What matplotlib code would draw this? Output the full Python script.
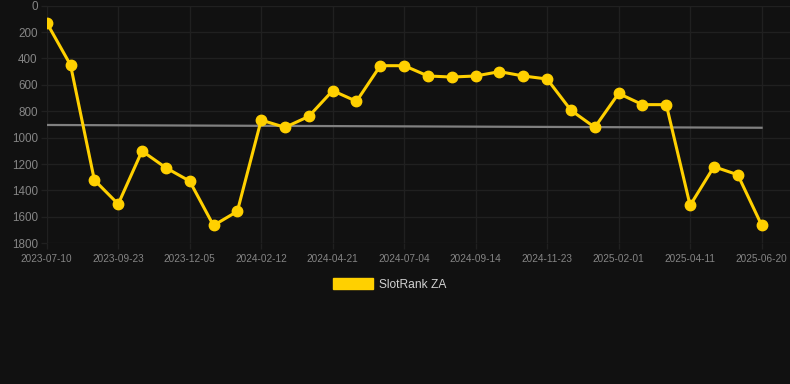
import matplotlib
matplotlib.use("Agg")
import matplotlib.pyplot as plt
from matplotlib.patches import Patch
import numpy as np

dates = [
    "2023-07-10", "2023-08-04", "2023-08-29", "2023-09-23", "2023-10-17", "2023-11-11",
    "2023-12-05", "2023-12-28", "2024-01-20", "2024-02-12", "2024-03-06", "2024-03-29",
    "2024-04-21", "2024-05-16", "2024-06-09", "2024-07-04", "2024-07-28", "2024-08-21",
    "2024-09-14", "2024-10-08", "2024-10-31", "2024-11-23", "2024-12-16", "2025-01-09",
    "2025-02-01", "2025-02-24", "2025-03-19", "2025-04-11", "2025-05-04", "2025-05-27",
    "2025-06-20",
]
rank = [
    129, 450, 1321, 1503, 1101, 1228, 1329, 1665, 1558, 867,
    922, 839, 644, 725, 455, 455, 533, 541, 533, 500,
    533, 556, 793, 922, 665, 750, 750, 1513, 1220, 1281,
    1662,
]
trend = [904, 925]
series_label = "SlotRank ZA"
y_ticks = [0, 200, 400, 600, 800, 1000, 1200, 1400, 1600, 1800]

BG = "#111111"
GOLD = "#FFD000"
GRID = "#202020"
TICKC = "#858585"

plt.rcParams["font.family"] = ["Liberation Sans", "DejaVu Sans"]

fig = plt.figure(figsize=(7.9, 3.84), dpi=100, facecolor=BG)
ax = fig.add_axes([46.7 / 790, 1 - 243.3 / 384, 1 - 46.7 / 790, (243.3 - 5.6) / 384])
ax.set_facecolor(BG)

x = np.arange(len(dates))
ax.plot([x[0], x[-1]], trend, color="#808080", lw=1.6, zorder=2)
ax.plot(x, rank, color=GOLD, lw=2.2, marker="o", markersize=7.5,
        markerfacecolor=GOLD, markeredgecolor=GOLD, zorder=3)

ax.set_ylim(1800, 0)
ax.set_xlim(0, (790 - 46.7) / 23.83)
ax.set_yticks(y_ticks)
ax.set_xticks(x[::3])
ax.set_xticklabels(dates[::3])

for s in ax.spines.values():
    s.set_visible(False)
ax.grid(True, color=GRID, lw=1.0, zorder=0)
ax.tick_params(axis="both", colors=GRID, length=4.5, width=1.0, labelcolor=TICKC)
ax.tick_params(axis="y", pad=2, labelsize=8.4)
ax.tick_params(axis="x", pad=3, labelsize=7.2)
ax.set_axisbelow(True)

fig.legend(handles=[Patch(facecolor=GOLD, edgecolor=GOLD)], labels=[series_label],
           loc="center", bbox_to_anchor=(390 / 790, 1 - 284.5 / 384), frameon=False,
           fontsize=8.64, handlelength=3.33, handleheight=0.92, handletextpad=0.5,
           borderpad=0, labelcolor="#d0d0d0")

fig.savefig("out.png", dpi=100, facecolor=BG)
